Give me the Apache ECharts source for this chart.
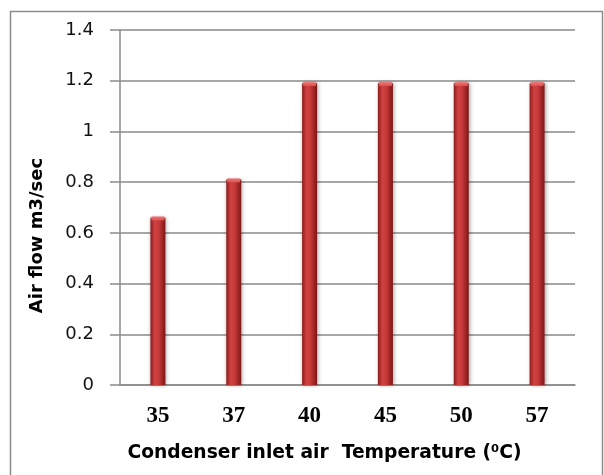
<!DOCTYPE html>
<html>
<head>
<meta charset="utf-8">
<style>
  html, body { margin: 0; padding: 0; background: #fff; }
  #chart { width: 604px; height: 475px; }
</style>
<script src="https://cdn.jsdelivr.net/npm/echarts@6/dist/echarts.min.js"></script>
</head>
<body>
<div id="chart"></div>
<script>
// Condenser inlet air temperature (°C) and the resulting air flow (m3/sec)
const temperatures = ['35', '37', '40', '45', '50', '57'];
const airFlow = [0.66, 0.81, 1.19, 1.19, 1.19, 1.19];
const yTicks = [0, 0.2, 0.4, 0.6, 0.8, 1, 1.2, 1.4];

const chart = echarts.init(document.getElementById('chart'), null, { renderer: 'canvas' });

const gridColor = '#8a8a8a';

chart.setOption({
  animation: false,
  backgroundColor: '#ffffff',
  graphic: [{
    // chart-area frame; its lower edge runs past the bottom of the canvas
    type: 'rect',
    shape: { x: 10.5, y: 11.5, width: 592, height: 475 },
    style: { fill: 'none', stroke: '#8c8c8c', lineWidth: 1.5 },
    silent: true
  }],
  grid: { left: 120, right: 29, top: 30, bottom: 90, outerBoundsMode: 'none', containLabel: false },
  xAxis: {
    type: 'category',
    data: temperatures,
    name: 'Condenser inlet air  Temperature (\u2070C)',
    nameLocation: 'middle',
    nameGap: 59,
    nameTextStyle: {
      fontFamily: 'DejaVu Sans', fontWeight: 'bold', fontSize: 18.7, color: '#000',
      padding: [0, 46, 0, 0]
    },
    axisLine: { show: true, lineStyle: { color: gridColor, width: 1.5 } },
    axisTick: { show: false },
    axisLabel: {
      margin: 20,
      fontFamily: 'Liberation Serif', fontWeight: 'bold', fontSize: 23, color: '#000'
    }
  },
  yAxis: {
    type: 'value',
    min: yTicks[0],
    max: yTicks[yTicks.length - 1],
    interval: 0.2,
    name: 'Air flow m3/sec',
    nameLocation: 'middle',
    nameGap: 74,
    nameRotate: 90,
    nameTextStyle: {
      fontFamily: 'DejaVu Sans', fontWeight: 'bold', fontSize: 18, color: '#000',
      padding: [0, 56, 0, 0]
    },
    axisLine: { show: true, lineStyle: { color: gridColor, width: 1.5 } },
    axisTick: { show: true, length: 10, lineStyle: { color: gridColor, width: 1.5 } },
    splitLine: { show: true, lineStyle: { color: gridColor, width: 1.5 } },
    axisLabel: {
      margin: 26,
      fontFamily: 'DejaVu Sans', fontSize: 18, color: '#111',
      formatter: v => String(Math.round(v * 10) / 10)
    }
  },
  series: [
    {
      type: 'bar',
      data: airFlow,
      barWidth: 15,
      itemStyle: {
        color: {
          type: 'linear', x: 0, y: 0, x2: 1, y2: 0,
          colorStops: [
            { offset: 0, color: '#8e1c1c' },
            { offset: 0.3, color: '#d04242' },
            { offset: 0.55, color: '#c83a3a' },
            { offset: 1, color: '#7d1515' }
          ]
        },
        shadowBlur: 4,
        shadowColor: 'rgba(0,0,0,0.35)',
        shadowOffsetX: 1
      },
      z: 2
    },
    {
      // lighter cap on top of each bar
      type: 'pictorialBar',
      data: airFlow,
      symbol: 'rect',
      symbolSize: [13, 4],
      symbolPosition: 'end',
      symbolOffset: [0, '-30%'],
      itemStyle: {
        color: {
          type: 'linear', x: 0, y: 0, x2: 0, y2: 1,
          colorStops: [
            { offset: 0, color: '#f07878' },
            { offset: 1, color: '#d85050' }
          ]
        }
      },
      z: 3,
      silent: true
    }
  ]
});
</script>
</body>
</html>
